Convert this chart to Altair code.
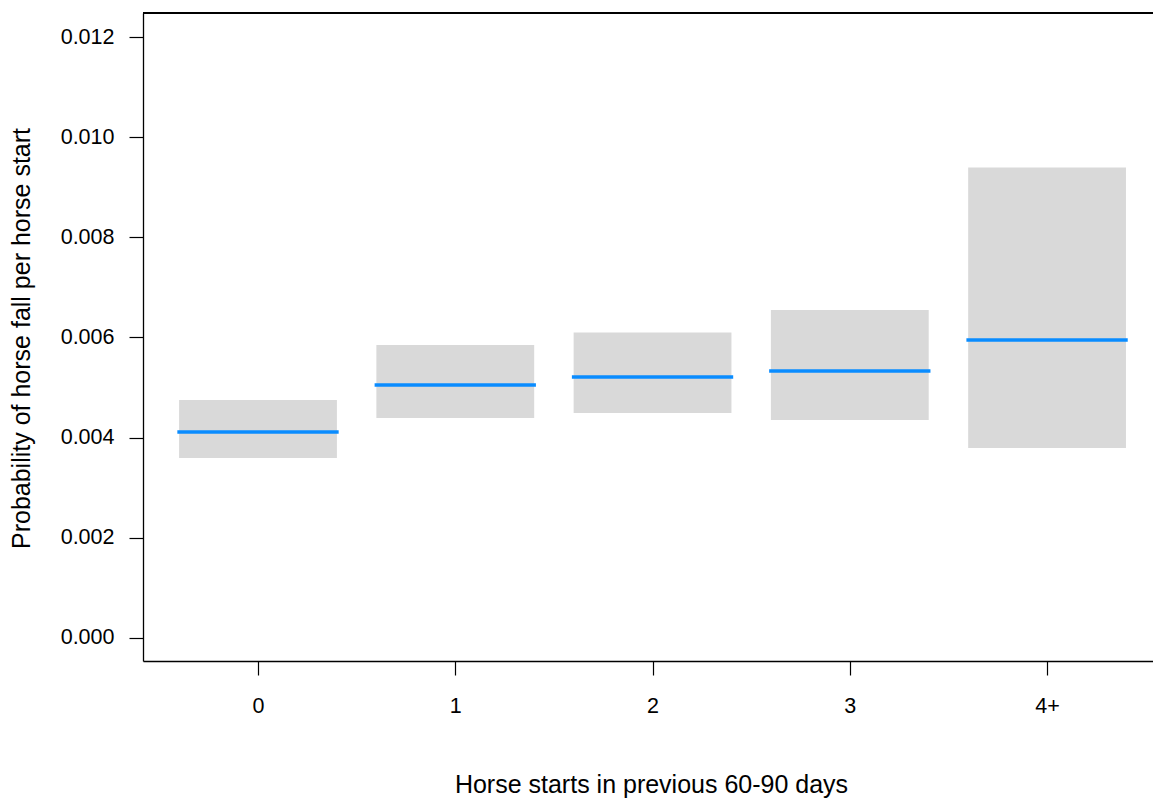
import altair as alt
import pandas as pd

# Estimated probability of a horse fall per start, with confidence limits,
# by number of starts in the previous 60-90 days
categories = ["0", "1", "2", "3", "4+"]
estimate = [0.00411, 0.00505, 0.00521, 0.00533, 0.00595]
lower = [0.00359, 0.00439, 0.00449, 0.00435, 0.00379]
upper = [0.00475, 0.00585, 0.00610, 0.00655, 0.00940]

y_ticks = [0.000, 0.002, 0.004, 0.006, 0.008, 0.010, 0.012]

df = pd.DataFrame({
    "idx": list(range(len(categories))),
    "category": categories,
    "estimate": estimate,
    "lower": lower,
    "upper": upper,
})

W, H = 1010, 648
FONT = "Liberation Sans"
label_js = "[" + ",".join(f"'{c}'" for c in categories) + "]"

x_scale = alt.Scale(domain=[-0.583, 4.537], nice=False, zero=False)
y_scale = alt.Scale(domain=[-0.00047, 0.01249], nice=False, zero=False)

x_axis = alt.Axis(
    values=list(range(len(categories))),
    labelExpr=f"{label_js}[datum.value]",
    title="Horse starts in previous 60-90 days",
    grid=False,
    tickSize=14, tickColor="#000", tickWidth=1.2,
    domainColor="#000", domainWidth=1.3,
    labelFont=FONT, labelFontSize=21.5, labelColor="#000",
    labelBaseline="alphabetic", labelPadding=37,
    titleFont=FONT, titleFontSize=25, titleFontWeight="normal", titleColor="#000",
    titleBaseline="alphabetic", titleX=508, titleY=131,
)
y_axis = alt.Axis(
    values=y_ticks,
    format=".3f",
    title="Probability of horse fall per horse start",
    grid=False,
    tickSize=14, tickColor="#000", tickWidth=1.2,
    domainColor="#000", domainWidth=1.3,
    labelFont=FONT, labelFontSize=21.5, labelColor="#000",
    labelPadding=15, labelBaseline="middle",
    titleFont=FONT, titleFontSize=25, titleFontWeight="normal", titleColor="#000",
    titleAngle=270, titleBaseline="alphabetic", titleX=-114, titleY=325,
)

base = alt.Chart(df).transform_calculate(
    x_lo="datum.idx - 0.4",
    x_hi="datum.idx + 0.4",
)

boxes = base.mark_rect(color="#D9D9D9").encode(
    x=alt.X("x_lo:Q", scale=x_scale, axis=x_axis),
    x2="x_hi:Q",
    y=alt.Y("lower:Q", scale=y_scale, axis=y_axis),
    y2="upper:Q",
)

lines = base.mark_rule(color="#0A8CFF", strokeWidth=3.5, strokeCap="square").encode(
    x=alt.X("x_lo:Q", scale=x_scale, axis=x_axis),
    x2="x_hi:Q",
    y=alt.Y("estimate:Q", scale=y_scale, axis=y_axis),
)

# top edge of the plot frame
top_edge = alt.Chart(df).mark_rule(color="#000", strokeWidth=1.3).encode(
    x=alt.value(0), x2=alt.value(W + 5), y=alt.value(0)
)

chart = (
    alt.layer(boxes, lines, top_edge)
    .properties(
        width=W,
        height=H,
        padding={"left": 143, "top": 13, "right": 0, "bottom": 138},
        autosize=alt.AutoSizeParams(type="none"),
        background="white",
    )
    .configure_view(stroke=None)
)

chart.save("out.html", embed_options={"renderer": "svg", "actions": False})
